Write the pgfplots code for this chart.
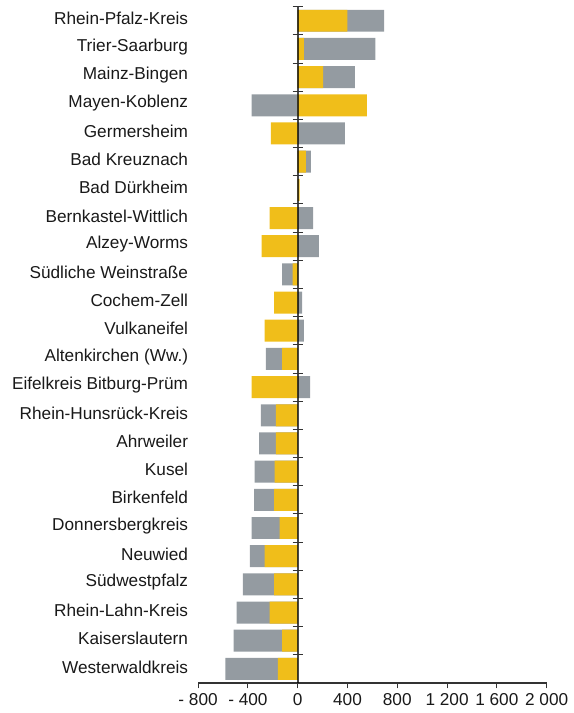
\documentclass[border=0pt]{standalone}
\usepackage{fontspec}
\setmainfont{Liberation Sans}
\usepackage{pgfplots}
\usepackage{pgfplotstable}
\pgfplotsset{compat=1.18}
\definecolor{barY}{RGB}{240,190,26}
\definecolor{barG}{RGB}{148,155,161}

% y = category centre (top row = 23.5); yel = yellow part, gry = outer end of grey part
\pgfplotstableread{
y     yel   gry
23.5  400   695
22.5  50    625
21.5  205   460
20.5  555   -370
19.5  -215  380
18.5  65    105
17.5  15    0
16.5  -225  125
15.5  -290  170
14.5  -40   -125
13.5  -190  35
12.5  -265  50
11.5  -125  -255
10.5  -370  100
9.5   -175  -295
8.5   -175  -310
7.5   -185  -345
6.5   -190  -350
5.5   -145  -370
4.5   -265  -385
3.5   -190  -440
2.5   -225  -490
1.5   -125  -515
0.5   -160  -580
}\kreise

\begin{document}
\begin{tikzpicture}
\begin{axis}[
  scale only axis,
  width=261.3pt, height=507pt,
  xmin=-800, xmax=2000, ymin=0, ymax=24,
  axis x line*=bottom, axis y line*=left,
  x axis line style={-, black!80, line width=0.8pt},
  y axis line style={draw=none},
  xtick={-800,-400,0,400,800,1200,1600,2000},
  xticklabels={- 800,- 400,0,400,800,1 200,1 600,2 000},
  tick align=outside,
  major tick length=4pt,
  xtick style={black!80, line width=0.8pt},
  ytick={0.5,1.5,...,23.5},
  ytick style={draw=none},
  yticklabels={Westerwaldkreis,Kaiserslautern,Rhein-Lahn-Kreis,Südwestpfalz,Neuwied,Donnersbergkreis,Birkenfeld,Kusel,Ahrweiler,Rhein-Hunsrück-Kreis,Eifelkreis Bitburg-Prüm,Altenkirchen (Ww.),Vulkaneifel,Cochem-Zell,Südliche Weinstraße,Alzey-Worms,Bernkastel-Wittlich,Bad Dürkheim,Bad Kreuznach,Germersheim,Mayen-Koblenz,Mainz-Bingen,Trier-Saarburg,Rhein-Pfalz-Kreis},
  ticklabel style={font=\fontsize{12.9}{15}\selectfont, text=black!90},
  yticklabel style={yshift=1.5pt},
  /pgf/number format/assume math mode=true,
  xbar, bar width=0.78, bar shift=0pt,
  clip=false,
]
\addplot[draw=none, fill=barG, bar shift=0pt] table[x=gry, y=y] {\kreise};
\addplot[draw=none, fill=barY, bar shift=0pt] table[x=yel, y=y] {\kreise};
\draw[black, opacity=0.72, line width=1.5pt] (axis cs:0,0) -- (axis cs:0,24);
\pgfplotsinvokeforeach{1,...,24}{
  \draw[black!80, line width=0.75pt] ([xshift=-3.8pt]axis cs:0,#1) -- ([xshift=3.8pt]axis cs:0,#1);
}
\end{axis}
\pgfresetboundingbox
\path ([xshift=-148.5pt,yshift=-22.5pt]current axis.south west) rectangle ([xshift=20.25pt,yshift=5pt]current axis.north east);
\end{tikzpicture}
\end{document}
